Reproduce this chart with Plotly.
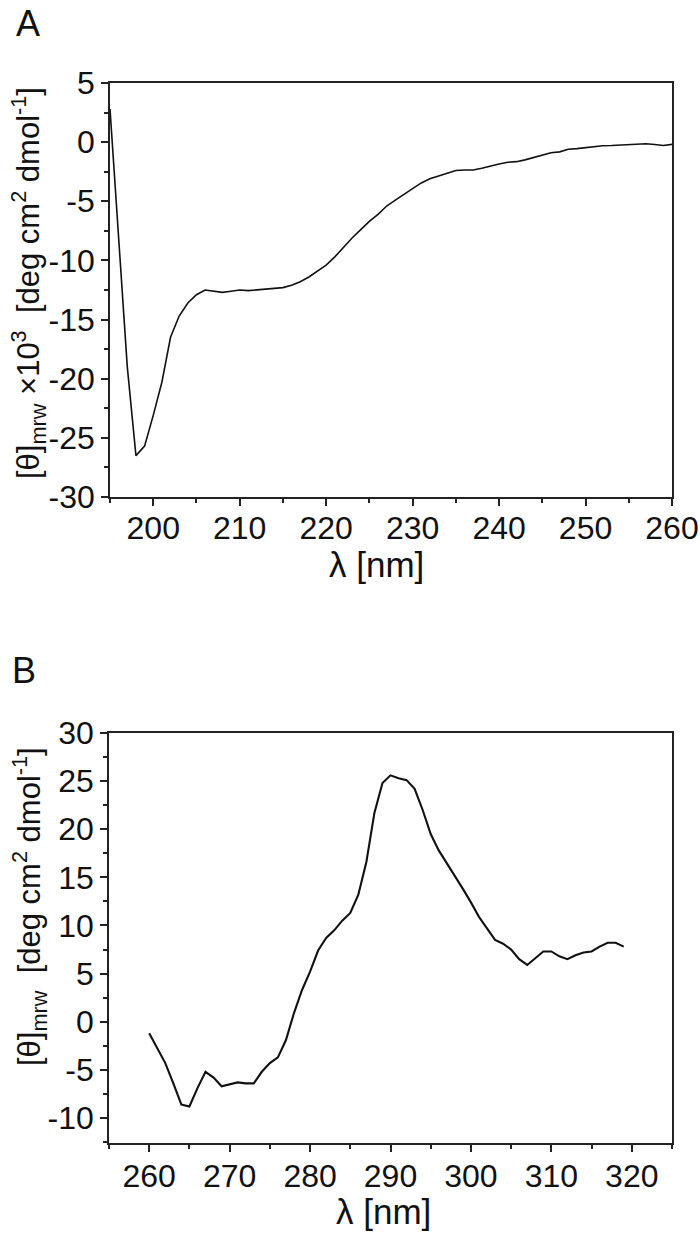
import plotly.graph_objects as go

# ---------------- data ----------------
wl_a = list(range(195, 261))
theta_a = [2.8, -8.0, -19.0, -26.5, -25.7, -23.1, -20.3, -16.5, -14.7, -13.6,
           -12.9, -12.5, -12.6, -12.7, -12.6, -12.5, -12.55, -12.5, -12.4, -12.35,
           -12.3, -12.1, -11.8, -11.4, -10.9, -10.4, -9.7, -8.9, -8.1, -7.4,
           -6.7, -6.1, -5.4, -4.9, -4.4, -3.9, -3.45, -3.1, -2.85, -2.6,
           -2.4, -2.35, -2.35, -2.2, -2.0, -1.85, -1.7, -1.65, -1.5, -1.3,
           -1.15, -0.9, -0.82, -0.6, -0.55, -0.45, -0.35, -0.3, -0.28, -0.25,
           -0.2, -0.13, -0.13, -0.2, -0.28, -0.19]

wl_b = list(range(260, 320))
theta_b = [-1.2, -2.7, -4.3, -6.4, -8.6, -8.8, -6.9, -5.2, -5.8, -6.7,
           -6.5, -6.3, -6.4, -6.4, -5.2, -4.3, -3.7, -1.9, 0.9, 3.3,
           5.2, 7.4, 8.7, 9.5, 10.5, 11.3, 13.2, 16.6, 21.7, 24.8,
           25.6, 25.3, 25.1, 24.2, 22.0, 19.5, 17.8, 16.5, 15.2, 13.8,
           12.4, 10.9, 9.7, 8.5, 8.1, 7.5, 6.5, 5.9, 6.6, 7.3,
           7.3, 6.8, 6.5, 6.9, 7.2, 7.3, 7.8, 8.2, 8.2, 7.8]

xticks_a = [200, 210, 220, 230, 240, 250, 260]
yticks_a = [5, 0, -5, -10, -15, -20, -25, -30]
xticks_b = [260, 270, 280, 290, 300, 310, 320]
yticks_b = [30, 25, 20, 15, 10, 5, 0, -5, -10]

# ---------------- figure ----------------
W, H = 700, 1236
FONT = "Liberation Sans, Arial, sans-serif"
AX = "#222222"
TXT = "#111111"
TICKFONT = dict(family=FONT, size=32, color=TXT)


def lbl(v):
    return str(v)


def px_x(p):
    return p / W


def px_y(p):
    return 1 - p / H


fig = go.Figure()
fig.add_trace(go.Scatter(x=wl_a, y=theta_a, mode="lines",
                         line=dict(color=TXT, width=1.6),
                         xaxis="x", yaxis="y", showlegend=False))
fig.add_trace(go.Scatter(x=wl_b, y=theta_b, mode="lines",
                         line=dict(color=TXT, width=2.1),
                         xaxis="x2", yaxis="y2", showlegend=False))

common = dict(showline=True, linecolor=AX, linewidth=1.6, mirror=True,
              ticks="outside", ticklen=7, tickwidth=1.5, tickcolor=AX,
              showgrid=False, zeroline=False, tickfont=TICKFONT,
              automargin=False, ticklabeloverflow="allow")
minor_style = dict(ticks="outside", ticklen=4, tickwidth=1.5, tickcolor=AX)

fig.update_layout(
    width=W, height=H,
    margin=dict(l=0, r=0, t=0, b=0),
    paper_bgcolor="white", plot_bgcolor="white",
    font=dict(family=FONT, color=TXT),
    xaxis=dict(domain=[px_x(110), px_x(672)], range=[195, 260], anchor="y",
               tickvals=xticks_a, ticktext=[lbl(v) for v in xticks_a],
               minor=dict(dtick=5, tick0=195, **minor_style),
               ticklabelstandoff=-5,
               **common),
    yaxis=dict(domain=[px_y(497), px_y(83)], range=[-30, 5], anchor="x",
               tickvals=yticks_a, ticktext=[lbl(v) for v in yticks_a],
               minor=dict(dtick=2.5, tick0=0, **minor_style),
               **common),
    xaxis2=dict(domain=[px_x(109), px_x(672)], range=[255, 325], anchor="y2",
                tickvals=xticks_b, ticktext=[lbl(v) for v in xticks_b],
                minor=dict(dtick=5, tick0=255, **minor_style),
                ticklabelstandoff=-3,
                **common),
    yaxis2=dict(domain=[px_y(1143), px_y(733)], range=[-12.6, 30], anchor="x2",
                tickvals=yticks_b, ticktext=[lbl(v) for v in yticks_b],
                minor=dict(dtick=2.5, tick0=0, **minor_style),
                **common),
)

xtitle = "λ [nm]"
ytitle_a = ("[θ]<sub>mrw</sub> ×10<sup>3</sup>\u00a0\u00a0[deg cm<sup>2</sup> "
            "dmol<sup>-1</sup>]")
ytitle_b = "[θ]<sub>mrw</sub>\u00a0\u00a0[deg cm<sup>2</sup> dmol<sup>-1</sup>]"


def anno(text, x, y, size, angle=0):
    return dict(text=text, x=px_x(x), y=px_y(y), xref="paper", yref="paper",
                showarrow=False, textangle=angle,
                font=dict(family=FONT, size=size, color=TXT),
                xanchor="center", yanchor="middle")


fig.update_layout(annotations=[
    anno("A", 28, 24, 36),
    anno("B", 24, 670, 36),
    anno(xtitle, 376, 564, 35),
    anno(xtitle, 383, 1211, 35),
    anno(ytitle_a, 29, 283, 31, -90),
    anno(ytitle_b, 29, 907, 31, -90),
])

fig.write_html("out.html",
               config={"displayModeBar": False},
               post_script="document.body.style.margin='0';"
                           "document.body.style.overflow='hidden';")
